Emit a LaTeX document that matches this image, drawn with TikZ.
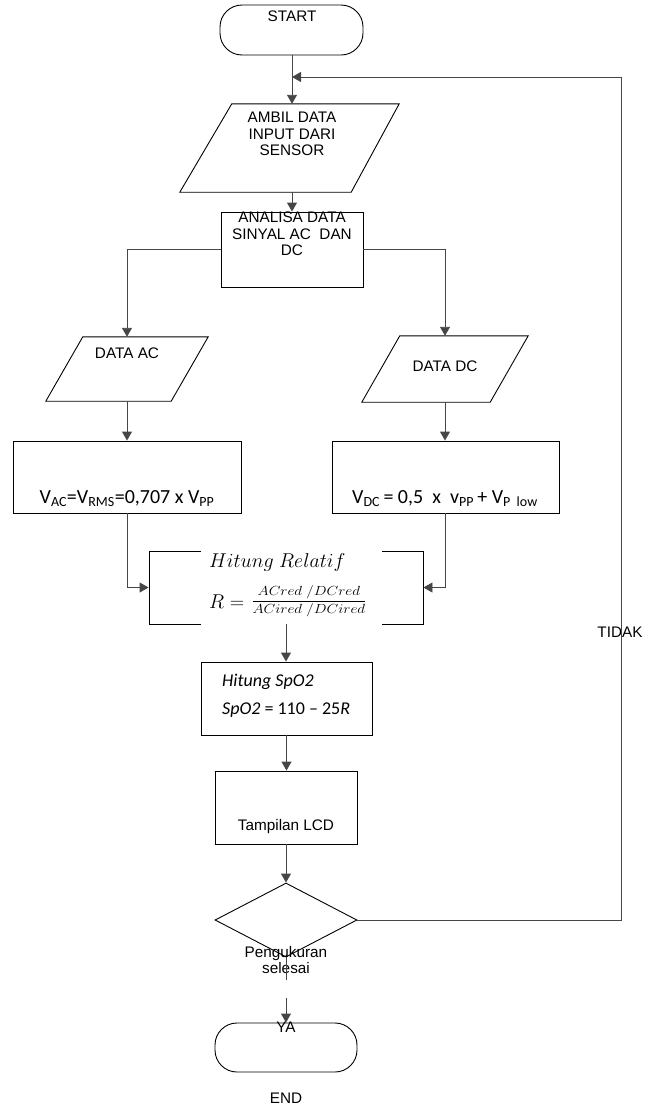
\RequirePackage{fix-cm}
\documentclass[tikz,border=0pt]{standalone}
\usepackage{fontspec}
\setmainfont{Liberation Sans}
\newfontfamily\calibfam{Carlito}
\usetikzlibrary{arrows.meta,shapes.geometric}
\definecolor{linegray}{RGB}{70,70,70}
\newcommand\arialf{\fontsize{15.3}{16.5}\selectfont}
\newcommand\calbig{\calibfam\fontsize{20}{24}\selectfont}
\newcommand\calmid{\calibfam\fontsize{18}{22}\selectfont}
\begin{document}
\begin{tikzpicture}[x=1pt,y=-1pt,
  shp/.style={draw=black,line width=0.9pt,inner sep=0pt},
  rbox/.style={shp,rectangle},
  term/.style={shp,rectangle,rounded corners=22pt},
  pbox/.style={rectangle,inner sep=0pt},
  dia/.style={shp,diamond},
  lbl/.style={font=\arialf,align=center,inner sep=0pt},
  conn/.style={draw=linegray,line width=0.9pt},
  arr/.style={conn,-{Triangle[width=10pt,length=9pt]}}
]
\useasboundingbox (0,0) rectangle (659,1106);

% shapes
\node[term,minimum width=143pt,minimum height=50pt] (start) at (291.5,30) {};
\node[lbl] (startt) at (292,16) {START};

\node[pbox,minimum width=219pt,minimum height=88pt] (ambil) at (289.5,148) {};
\draw[shp] ([xshift=52pt]ambil.north west) -- (ambil.north east) -- ([xshift=-48pt]ambil.south east) -- (ambil.south west) -- cycle;
\node[lbl] (ambilt) at (292,134) {AMBIL DATA\\INPUT DARI\\SENSOR};

\node[rbox,minimum width=142pt,minimum height=75pt] (analisa) at (292,249.5) {};
\node[lbl] (analisat) at (292,234) {ANALISA DATA\\SINYAL AC\ \ DAN\\DC};

\node[pbox,minimum width=162pt,minimum height=64pt] (dataac) at (127,369) {};
\draw[shp] ([xshift=37pt]dataac.north west) -- (dataac.north east) -- ([xshift=-37pt]dataac.south east) -- (dataac.south west) -- cycle;
\node[lbl] (dataact) at (127,353) {DATA AC};

\node[pbox,minimum width=166pt,minimum height=66pt] (datadc) at (445,369) {};
\draw[shp] ([xshift=38pt]datadc.north west) -- (datadc.north east) -- ([xshift=-38pt]datadc.south east) -- (datadc.south west) -- cycle;
\node[lbl] (datadct) at (445,366) {DATA DC};

\node[rbox,minimum width=228pt,minimum height=72pt] (vac) at (127,477) {};
\node[font=\calbig,inner sep=0pt] (vact) at (127,499) {V\textsubscript{AC}=V\textsubscript{RMS}=0,707 x V\textsubscript{PP}};

\node[rbox,minimum width=227pt,minimum height=72pt] (vdc) at (445.5,477) {};
\node[font=\calbig,inner sep=0pt] (vdct) at (445,499) {V\textsubscript{DC}\,= 0,5\ \ x\ \ v\textsubscript{PP}\,+ V\textsubscript{P\ \ low}};

\node[rbox,minimum width=274pt,minimum height=73pt] (rel) at (286,587.5) {};
\node[fill=white,inner sep=0pt,minimum width=181pt,minimum height=80pt] (relimg) at (291.5,587.5) {};
\node[anchor=west,inner sep=0pt,font=\fontsize{20}{24}\selectfont] (relt1) at (209,562) {$Hitung\ Relatif$};
\node[anchor=west,inner sep=0pt,font=\fontsize{20}{24}\selectfont] (relt2) at (209,602) {$R={}$};
\node[anchor=west,inner sep=0pt,font=\fontsize{13.2}{16}\selectfont] (relt3) at (251,601) {\scalebox{1.15}[1]{$\displaystyle\frac{ACred\;/DCred}{ACired\;/DCired}$}};

\node[rbox,minimum width=171pt,minimum height=73pt] (spo) at (286.5,698.5) {};
\node[anchor=west,inner sep=0pt,font=\calmid] (spot1) at (222,682) {\itshape Hitung SpO2};
\node[anchor=west,inner sep=0pt,font=\calmid] (spot2) at (222,710) {\textit{SpO2} = 110 – 25\textit{R}};

\node[rbox,minimum width=142pt,minimum height=73pt] (lcd) at (286,807.5) {};
\node[lbl] (lcdt) at (286,827) {Tampilan LCD};

\node[dia,minimum width=142pt,minimum height=74pt] (dec) at (286,920) {};
\node[lbl] (dect) at (286,960) {Pengukuran\\selesai};

\node[term,minimum width=142pt,minimum height=49pt] (stop) at (286,1047.5) {};
\node[lbl] (endt) at (286,1098) {END};

\node[lbl] (tidak) at (620,632) {TIDAK};

% connectors
\coordinate (loopin) at (292,77);
\coordinate (loopx) at (621,77);
\coordinate (g1) at (286,980);
\coordinate (g2) at (286,998);

\draw[arr] (start.south -| loopin) -- (loopin |- ambil.north);
\draw[arr] (dec.east) -| (loopx) -- (loopin);
\draw[arr] (analisa.north |- ambil.south) -- (analisa.north);
\draw[arr] (analisa.west) -| (dataac.north);
\draw[arr] (analisa.east) -| (datadc.north);
\draw[arr] (dataac.south) -- (vac.north);
\draw[arr] (datadc.south) -- (datadc.south |- vdc.north);
\draw[arr] (vac.south) |- (rel.west);
\draw[arr] (vdc.south) |- (rel.east);
\draw[arr] (rel.south) -- (rel.south |- spo.north);
\draw[arr] (spo.south) -- (spo.south |- lcd.north);
\draw[arr] (lcd.south) -- (dec.north);
\draw[conn] (dec.south) -- (g1);
\draw[arr] (g2) -- (stop.north);
\node[lbl] (yat) at (286,1027) {YA};
\end{tikzpicture}
\end{document}
